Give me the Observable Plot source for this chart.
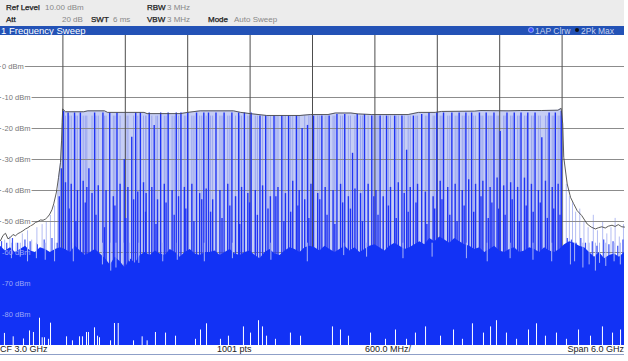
<!DOCTYPE html>
<html><head><meta charset="utf-8">
<script src="https://cdn.jsdelivr.net/npm/d3@7"></script>
<script src="https://cdn.jsdelivr.net/npm/@observablehq/plot@0.6"></script>
<style>
body{margin:0;width:628px;height:361px;overflow:hidden;background:#fff;font-family:"Liberation Sans",Arial,sans-serif;position:relative}
.t{position:absolute;white-space:nowrap;line-height:1}
.l{color:#1a1a1a;font-size:8px;-webkit-text-stroke:0.25px #1a1a1a}
.v{color:#888;font-size:8px}
.f{color:#222;font-size:9px}
#chart{position:absolute;left:0;top:35px}
</style></head><body>
<div style="position:absolute;left:0;top:0;width:624px;height:26px;background:#ececec"></div>
<span class="t l" style="left:6px;top:3.5px">Ref Level</span>
<span class="t v" style="left:45px;top:3.5px">10.00 dBm</span>
<span class="t l" style="left:147px;top:3.5px">RBW</span>
<span class="t v" style="left:167px;top:3.5px">3 MHz</span>
<span class="t l" style="left:6px;top:16px">Att</span>
<span class="t v" style="left:62px;top:16px">20 dB</span>
<span class="t l" style="left:91px;top:16px">SWT</span>
<span class="t v" style="left:113px;top:16px">6 ms</span>
<span class="t l" style="left:147px;top:16px">VBW</span>
<span class="t v" style="left:167px;top:16px">3 MHz</span>
<span class="t l" style="left:208px;top:16px">Mode</span>
<span class="t v" style="left:234px;top:16px">Auto Sweep</span>
<div style="position:absolute;left:0;top:26px;width:624px;height:9px;background:#2352b6"></div>
<span class="t" style="left:1px;top:26px;font-size:9.5px;color:#fff">1 Frequency Sweep</span>
<span style="position:absolute;left:529px;top:28px;width:4px;height:4px;border-radius:50%;background:#3a4cff;box-shadow:0 0 0 0.8px #9fb0ff"></span>
<span class="t" style="left:535px;top:27px;font-size:8.5px;color:#c9d2ee">1AP Clrw</span>
<span style="position:absolute;left:575px;top:28px;width:4px;height:4px;border-radius:50%;background:#111"></span>
<span class="t" style="left:581px;top:27px;font-size:8.5px;color:#c9d2ee">2Pk Max</span>
<div id="chart"></div>
<span class="t f" style="left:0px;top:344.5px">CF 3.0 GHz</span>
<span class="t f" style="left:217px;top:344.5px">1001 pts</span>
<span class="t f" style="left:365px;top:344.5px">600.0 MHz/</span>
<span class="t f" style="right:4px;top:344.5px">Span 6.0 GHz</span>
<div style="position:absolute;left:0;top:354px;width:624px;height:1px;background:#8fa0c8"></div>
<script>
// Y grid / tick labels (dBm)
const gridDb = [0, -10, -20, -30, -40, -50, -60, -70, -80];
// X grid (MHz), 600 MHz/div
const gridMHz = [600, 1200, 1800, 2400, 3000, 3600, 4200, 4800, 5400];

// 2Pk Max trace (envelope)
const envMHz = [0, 24, 48, 72, 96, 120, 144, 168, 192, 216, 240, 264, 288, 312, 337, 361, 385, 409, 433, 455, 474, 495, 512, 538, 558, 577, 587, 593, 598, 625, 800, 840, 1000, 1030, 1380, 1410, 1730, 1800, 1920, 2240, 2310, 2400, 2560, 2880, 2980, 3150, 3220, 3370, 3440, 3570, 3920, 4020, 4180, 4240, 4560, 4620, 4880, 5000, 5200, 5360, 5391, 5406, 5416, 5449, 5481, 5510, 5545, 5589, 5641, 5680, 5720, 5750, 5782, 5815, 5846, 5880, 5910, 5940, 5974, 6000];
const envDb = [-56.2, -54.5, -53.8, -55.6, -55.1, -54.2, -54.6, -53.9, -53.5, -53.0, -52.4, -52.0, -51.4, -51.0, -50.3, -50.0, -49.5, -49.6, -49.2, -48.5, -47.6, -46.2, -44.3, -40.5, -35.8, -31.0, -24.0, -18.0, -13.7, -14.6, -14.6, -14.3, -14.3, -14.8, -14.8, -15.2, -15.2, -14.8, -14.3, -14.3, -14.8, -15.2, -15.8, -15.8, -15.5, -15.5, -15.0, -15.0, -15.3, -15.5, -15.5, -14.8, -14.8, -14.5, -14.4, -14.2, -14.3, -14.2, -14.2, -14.1, -13.5, -18.5, -29.3, -37.9, -42.2, -44.2, -46.5, -48.1, -50.8, -51.8, -52.4, -52.0, -51.7, -52.1, -51.5, -51.2, -51.6, -51.0, -51.7, -51.8];

// 1AP Clrw trace: tall spikes
const tallMHz = [606, 650, 712, 768, 850, 905, 985, 1050, 1120, 1190, 1262, 1300, 1345, 1430, 1478, 1540, 1612, 1690, 1735, 1800, 1885, 1955, 2000, 2072, 2150, 2225, 2290, 2345, 2410, 2495, 2550, 2630, 2705, 2770, 2845, 2900, 2952, 3010, 3090, 3160, 3235, 3310, 3385, 3430, 3500, 3570, 3650, 3712, 3790, 3860, 3905, 3970, 4050, 4120, 4195, 4260, 4340, 4410, 4475, 4530, 4605, 4670, 4745, 4805, 4870, 4940, 5005, 5070, 5140, 5205, 5275, 5335, 5392];
const tallDb = [-14.5, -15, -15, -15, -33, -15, -15, -15, -15, -30, -22.8, -15, -15, -15, -19, -15, -15, -15, -15, -15, -15, -15, -15, -15, -15, -15, -15, -15, -15, -16, -16, -16, -16, -16, -16, -20, -19, -16, -16, -16, -15.5, -15.5, -28, -15.5, -15.5, -16, -16, -16, -16, -16, -27, -16, -15.5, -15, -15, -15, -15, -15, -15, -15, -15, -15, -15, -21, -15, -15, -15, -15, -15, -23, -15, -15, -14.5];
// medium spikes
const medMHz = [565, 585, 625, 680, 740, 795, 830, 880, 940, 1015, 1085, 1150, 1225, 1320, 1375, 1400, 1455, 1510, 1575, 1650, 1712, 1768, 1840, 1915, 1978, 2040, 2110, 2185, 2260, 2318, 2378, 2450, 2520, 2595, 2668, 2740, 2810, 2872, 2925, 2985, 3050, 3122, 3198, 3270, 3345, 3408, 3462, 3535, 3610, 3680, 3750, 3825, 3882, 3940, 4010, 4085, 4160, 4228, 4300, 4372, 4440, 4502, 4568, 4638, 4708, 4775, 4838, 4905, 4972, 5038, 5105, 5172, 5240, 5305, 5362];
const medDb = [-42, -33, -37.5, -38, -40, -37, -39, -41, -38.5, -40, -42, -38, -39, -40.5, -37.5, -41, -39, -43, -38, -40, -42, -39, -38, -41, -39.5, -43, -40, -38, -42, -39, -41, -40, -38.5, -42, -39, -41, -37, -40, -43, -38, -41, -39, -40, -38, -42, -39.5, -41, -38, -40, -42, -39, -37.5, -41, -39, -38, -40.5, -42, -37, -39, -38, -40, -36.5, -38, -37, -39, -36, -38.5, -37.5, -39, -36, -38, -40, -37, -39, -38];
// short spikes
const shortMHz = [660, 725, 815, 918, 1000, 1100, 1205, 1280, 1395, 1495, 1592, 1670, 1782, 1860, 1935, 2020, 2130, 2205, 2300, 2395, 2470, 2572, 2648, 2725, 2790, 2860, 2965, 3070, 3140, 3215, 3290, 3365, 3480, 3590, 3630, 3730, 3805, 3920, 3995, 4100, 4175, 4245, 4320, 4390, 4458, 4550, 4620, 4690, 4725, 4790, 4852, 4920, 4988, 5055, 5122, 5190, 5258, 5320, 5380];
const shortDb = [-46, -50, -44, -48, -52, -45, -49, -43, -47, -51, -44, -48, -46, -50, -43, -47, -49, -45, -51, -44, -48, -46, -42, -50, -47, -45, -49, -43, -48, -51, -44, -46, -50, -42, -48, -45, -49, -47, -44, -51, -46, -43, -48, -50, -45, -47, -42, -49, -44, -46, -48, -43, -50, -45, -47, -44, -49, -46, -48];
// light spikes outside the band
const outMHz = [40, 90, 150, 210, 260, 300, 350, 400, 440, 480, 520, 550, 5440, 5470, 5500, 5530, 5570, 5610, 5650, 5700, 5740, 5790, 5830, 5870, 5910, 5950, 5990];
const outDb = [-56, -55, -57, -54, -53, -56, -52, -51, -50, -48, -45, -40, -38, -42, -44, -47, -46, -50, -52, -48, -53, -50, -54, -52, -49, -55, -51];

// noise floor, one value every 48 MHz from 0 to 6000 MHz
const floorDb = [-58, -59.5, -58.5, -60, -59, -58, -59.5, -60, -58.5, -59, -60, -59, -58.5,
  -59, -60, -58, -59.5, -61, -60, -59, -60.5,
  -62, -64, -61.5, -63, -65, -62, -63.5, -61,
  -60, -61, -59.5, -60.5, -61, -59, -60, -61.5, -60, -59, -60.5, -61, -60,
  -60, -59.5, -61, -60, -59, -60.5, -61, -60, -59.5, -61, -62, -60, -59, -60.5, -61, -59.5, -58.5, -59, -60, -58.5, -58,
  -58.5, -59.5, -58, -59, -60, -59, -58, -59.5, -58.5, -60, -59, -58, -57.5, -58.5, -59.5, -58, -57, -58, -59, -58.5, -57.5, -56.5, -57.5,
  -55.5, -56.5, -55, -56, -57, -55.5, -56.5, -57.5,
  -58, -59, -58.5, -60, -59, -58, -59.5, -60, -59, -58.5, -60, -59.5, -58.5, -59, -60, -58.5, -59.5, -60, -59,
  -57.5, -56.5, -57, -58, -58.5,
  -60, -61.5, -60, -62, -61, -60.5, -61.5, -60];
const floorStepMHz = 48;
// small noise peaks just above the floor
const peakMHz = [10, 60, 115, 165, 235, 285, 355, 420, 495, 545, 5450, 5490, 5535, 5580, 5625, 5690, 5735, 5800, 5850, 5890, 5935, 5985];
const peakDb = [-56.5, -57, -55.5, -57, -56, -56.5, -57.5, -56, -55.5, -57, -55.5, -56, -57, -55.5, -57, -56.5, -58, -56, -57.5, -56.5, -58, -56];
// light dips through the floor
const dipMHz = [105, 190, 260, 345, 430, 520, 700, 980, 1060, 1110, 1180, 1240, 1330, 1560, 1700, 1960, 2230, 2600, 2950, 3300, 3520, 3870, 4150, 4480, 4680, 4900, 5120, 5300, 5480, 5520, 5600, 5660, 5720, 5760, 5820, 5900, 5960];
const dipDb = [-62, -61.5, -63, -62, -62.5, -63, -63, -64, -66, -65, -64, -63, -63.5, -63, -62.5, -63, -62, -62.5, -63, -61, -61.5, -62, -61.5, -62, -63, -62, -62.5, -63, -64, -63, -65, -64, -66, -63.5, -64.5, -63, -64];

// white dips at the bottom of the trace
const whiteMHz = [38, 122, 221, 279, 317, 375, 401, 423, 462, 481, 635, 692, 760, 788, 827, 846, 904, 933, 952, 1058, 1096, 1132, 1279, 1362, 1410, 1490, 1587, 1683, 1875, 1923, 1981, 2115, 2192, 2336, 2404, 2481, 2519, 2558, 2644, 2788, 2885, 3192, 3269, 3346, 3558, 3702, 3798, 3904, 3990, 4087, 4231, 4356, 4442, 4538, 4644, 4712, 4769, 4865, 4962, 5077, 5154, 5240, 5346, 5442, 5558, 5673, 5788, 5885, 5962];
const whiteDb = [-86.1, -87.2, -87.9, -85.3, -85.8, -81.2, -87.5, -87.5, -88, -82.8, -87.2, -88.5, -87.2, -87.2, -85.8, -85.8, -84.3, -87, -87.5, -88.5, -82.9, -82.9, -88.5, -87.2, -88.5, -85.8, -86, -87, -88, -85, -83, -88, -87, -84, -86, -82, -84, -87, -88, -86, -87, -84, -85, -87, -86, -88, -85, -88, -86, -84, -87, -85, -88, -83, -86, -84, -82, -86, -88, -85, -83, -87, -86, -88, -85, -87, -84, -86, -85];

const zip = (fs, ds) => fs.map((f, i) => ({f, db: ds[i]}));
const env = zip(envMHz, envDb);
const bandEnv = env.filter(d => d.f >= 555 && d.f <= 5430);
const floor = floorDb.map((db, i) => ({f: i * floorStepMHz, db}));
const stripes = medMHz.concat(shortMHz).filter(f => f > 600 && f < 5395);

const chart = Plot.plot({
  width: 628, height: 310,
  marginLeft: 0, marginRight: 4, marginTop: 0, marginBottom: 0,
  x: {domain: [0, 6000], axis: null},
  y: {domain: [-90, 10], axis: null},
  style: {background: "transparent"},
  marks: [
    Plot.areaY(bandEnv, {x: "f", y1: -90, y2: "db", fill: "#c6cef5"}),
    Plot.ruleX(stripes, {x: d => d, y1: -90, y2: -16, stroke: "#98a4f0", strokeWidth: 1}),
    Plot.ruleX(zip(outMHz, outDb), {x: "f", y1: -90, y2: "db", stroke: "#b4bdf3"}),
    Plot.ruleY(gridDb, {stroke: "#8c8c8c"}),
    Plot.ruleX(gridMHz, {stroke: "#4d4d4d"}),
    Plot.ruleX(zip(shortMHz, shortDb), {x: "f", y1: -90, y2: "db", stroke: "#2034f3", strokeWidth: 1.4}),
    Plot.ruleX(zip(medMHz, medDb), {x: "f", y1: -90, y2: "db", stroke: "#2034f3", strokeWidth: 1.4}),
    Plot.ruleX(zip(tallMHz, tallDb), {x: "f", y1: -90, y2: "db", stroke: "#2034f3", strokeWidth: 1.4}),
    Plot.ruleX(zip(peakMHz, peakDb), {x: "f", y1: -90, y2: "db", stroke: "#3a50f4", strokeWidth: 1.2}),
    Plot.areaY(floor, {x: "f", y1: -90, y2: "db", fill: "#1232f5"}),
    Plot.ruleX(zip(dipMHz, dipDb), {x: "f", y1: -57, y2: "db", stroke: "#aab5f4", strokeWidth: 1}),
    Plot.ruleX(zip(whiteMHz, whiteDb), {x: "f", y1: -90, y2: "db", stroke: "#ffffff"}),
    Plot.line(env, {x: "f", y: "db", stroke: "#4a4a4a", strokeWidth: 0.9}),
    Plot.text(gridDb.filter(d => d > -55), {x: 15, y: d => d, text: d => `${d} dBm`, textAnchor: "start", fontSize: 7.5, fill: "#777", stroke: "#fff", strokeWidth: 3, fontFamily: "Liberation Sans"}),
    Plot.text(gridDb.filter(d => d < -55), {x: 15, y: d => d, text: d => `${d} dBm`, textAnchor: "start", fontSize: 7.5, fill: "#9aa6f8", fontFamily: "Liberation Sans"})
  ]
});
document.getElementById("chart").appendChild(chart);
</script>
</body></html>
